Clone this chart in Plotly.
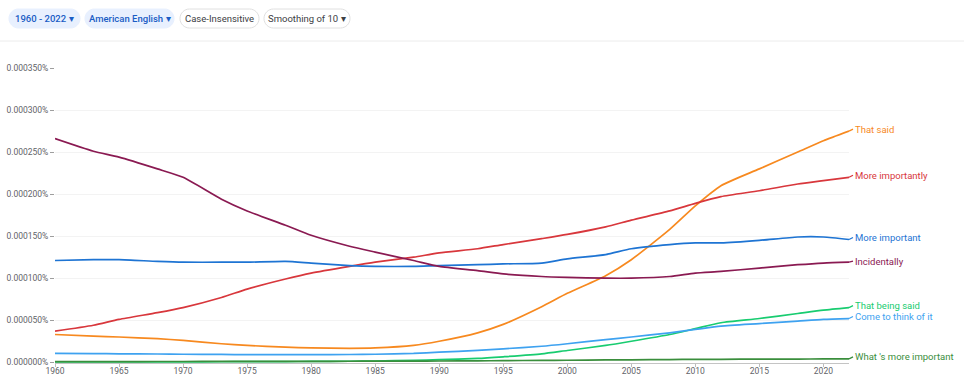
import plotly.graph_objects as go

# ---------------- data (percent of all n-grams) ----------------
years = [1960, 1963, 1965, 1968, 1970, 1973, 1975, 1978, 1980, 1983, 1985, 1988, 1990,
         1993, 1995, 1998, 2000, 2003, 2005, 2008, 2010, 2012, 2015, 2018, 2020, 2022]

that_said = [0.000033, 0.000031, 0.000030, 0.000028, 0.000026, 0.000022, 0.000020, 0.000018,
             0.000017, 0.0000165, 0.000017, 0.000020, 0.000025, 0.000035, 0.000045, 0.000066,
             0.000082, 0.000103, 0.000122, 0.000158, 0.000186, 0.000210, 0.000230, 0.000250,
             0.0002635, 0.000275]
more_importantly = [0.000037, 0.000044, 0.000051, 0.000059, 0.000065, 0.000077, 0.000087,
                    0.000099, 0.000106, 0.000114, 0.000119, 0.000125, 0.000130, 0.000135,
                    0.000140, 0.000147, 0.000152, 0.000161, 0.000169, 0.000180, 0.000189,
                    0.000197, 0.000204, 0.000212, 0.000216, 0.000220]
more_important = [0.000121, 0.000122, 0.000122, 0.000120, 0.000119, 0.000119, 0.000119,
                  0.000120, 0.000118, 0.000115, 0.000114, 0.000114, 0.000115, 0.000116,
                  0.000117, 0.000118, 0.000123, 0.000128, 0.000135, 0.000140, 0.000142,
                  0.000142, 0.000145, 0.000149, 0.000149, 0.000146]
incidentally = [0.000266, 0.000251, 0.000244, 0.000230, 0.000220, 0.000194, 0.000180,
                0.000163, 0.000151, 0.000138, 0.000131, 0.000121, 0.000114, 0.000109,
                0.000105, 0.000102, 0.000101, 0.000100, 0.000100, 0.000102, 0.000106,
                0.000108, 0.000112, 0.000116, 0.000118, 0.000119]
that_being_said = [0.0000005, 0.0000005, 0.0000005, 0.0000005, 0.0000005, 0.0000006, 0.0000007,
                   0.0000008, 0.000001, 0.0000012, 0.0000015, 0.0000022, 0.000003, 0.0000045,
                   0.0000065, 0.000010, 0.000014, 0.000020, 0.000025, 0.000033, 0.000040,
                   0.000047, 0.000052, 0.000058, 0.000062, 0.000065]
come_to_think = [0.0000105, 0.0000103, 0.000010, 0.0000098, 0.0000095, 0.0000093, 0.000009,
                 0.000009, 0.000009, 0.0000092, 0.0000095, 0.0000105, 0.000012, 0.000014,
                 0.000016, 0.000019, 0.000022, 0.000027, 0.000030, 0.000035, 0.000039,
                 0.000043, 0.000046, 0.000049, 0.000051, 0.000052]
whats_more_important = [0.0000008, 0.0000008, 0.0000008, 0.0000009, 0.0000009, 0.000001,
                        0.000001, 0.000001, 0.0000011, 0.0000012, 0.0000013, 0.0000014,
                        0.0000015, 0.0000017, 0.0000019, 0.0000022, 0.0000024, 0.0000027,
                        0.0000029, 0.0000032, 0.0000034, 0.0000035, 0.0000037, 0.0000038,
                        0.0000039, 0.000004]

series_names = ["That said", "More importantly", "More important", "Incidentally",
                "That being said", "Come to think of it", "What 's more important"]
series_values = [that_said, more_importantly, more_important, incidentally,
                 that_being_said, come_to_think, whats_more_important]
series_colors = ["#f7891f", "#d8373c", "#1e74d3", "#8a1a52", "#18cc70", "#3ea2f0", "#3a8e3c"]
label_shift = [2, 2, 2, 1, 2, 2, 2]

chip_labels = ["1960 - 2022 \u25be", "American English \u25be", "Case-Insensitive", "Smoothing of 10 \u25be"]

# ---------------- layout geometry ----------------
W, H = 964, 380
PL, PR, PT, PB = 55, 115, 68, 17
PW, PH = W - PL - PR, H - PT - PB

def paper(x, y):
    return ((x - PL) / PW, (H - PB - y) / PH)

def pill_path(x0, y0, x1, y1):
    r = (y1 - y0) / 2
    k = 0.5523 * r
    ym = (y0 + y1) / 2
    def P(x, y):
        px, py = paper(x, y)
        return f"{px:.5f},{py:.5f}"
    d = (f"M {P(x0 + r, y0)} L {P(x1 - r, y0)} "
         f"C {P(x1 - r + k, y0)} {P(x1, ym - k)} {P(x1, ym)} "
         f"C {P(x1, ym + k)} {P(x1 - r + k, y1)} {P(x1 - r, y1)} "
         f"L {P(x0 + r, y1)} "
         f"C {P(x0 + r - k, y1)} {P(x0, ym + k)} {P(x0, ym)} "
         f"C {P(x0, ym - k)} {P(x0 + r - k, y0)} {P(x0 + r, y0)} Z")
    return d

fig = go.Figure()
for name, vals, col in zip(series_names, series_values, series_colors):
    fig.add_trace(go.Scatter(x=years, y=vals, mode="lines", name=name,
                             line=dict(color=col, width=1.7, shape="spline", smoothing=0.6),
                             hoverinfo="skip"))

annotations = []
for name, vals, col, sh in zip(series_names, series_values, series_colors, label_shift):
    annotations.append(dict(x=years[-1], y=vals[-1], xref="x", yref="y", text=name,
                            showarrow=True, arrowhead=0, arrowwidth=1.3, arrowcolor=col,
                            ax=4, ay=-sh, standoff=0, xanchor="left", yanchor="middle",
                            font=dict(family="Roboto", size=9.5, color=col)))

shapes = []
chips = [(9, 9, 80, 28, True), (85, 9, 174, 28, True), (180, 9, 259, 28, False), (264, 9, 350, 28, False)]
for (x0, y0, x1, y1, active), txt in zip(chips, chip_labels):
    shapes.append(dict(type="path", path=pill_path(x0, y0, x1, y1), xref="paper", yref="paper",
                       fillcolor="#e8f0fe" if active else "#ffffff",
                       line=dict(color="#e8f0fe" if active else "#e0e0e0", width=1), layer="above"))
    cx, cy = paper((x0 + x1) / 2, (y0 + y1) / 2)
    annotations.append(dict(x=cx, y=cy, xref="paper", yref="paper", text=txt, showarrow=False,
                            xanchor="center", yanchor="middle",
                            font=dict(family="Roboto", size=9.5,
                                      color="#1a5dc5" if active else "#3c4043",
                                      weight=500 if active else 400)))

# divider under the toolbar
lx0, ly = paper(0, 41)
lx1, _ = paper(W, 41)
shapes.append(dict(type="line", xref="paper", yref="paper", x0=lx0, x1=lx1, y0=ly, y1=ly,
                   line=dict(color="#ececec", width=1)))

fig.update_layout(
    width=W, height=H, margin=dict(l=PL, r=PR, t=PT, b=PB, autoexpand=False),
    paper_bgcolor="white", plot_bgcolor="white", showlegend=False,
    font=dict(family="Roboto", color="#5f6368"),
    shapes=shapes, annotations=annotations,
    xaxis=dict(range=[1960, 2022], tickmode="array", tickvals=list(range(1960, 2021, 5)),
               showgrid=False, zeroline=False, showline=True, linecolor="#c4c4c4", linewidth=1.2,
               ticks="outside", ticklen=3, tickcolor="#bdbdbd", tickfont=dict(size=8.5, color="#5f6368"),
               ticklabelstandoff=-3, automargin=False),
    yaxis=dict(range=[-0.0000009, 0.00035], tick0=0, dtick=0.00005, tickformat=".6f", ticksuffix="%",
               showgrid=True, gridcolor="#f3f3f3", gridwidth=1, zeroline=False, showline=False,
               ticks="outside", ticklen=4, tickcolor="#9e9e9e", tickfont=dict(size=8.5, color="#5f6368"),
               automargin=False),
)

fig.write_html("out.html", config={"displayModeBar": False},
               post_script="document.body.style.margin='0';document.body.style.overflow='hidden';")
